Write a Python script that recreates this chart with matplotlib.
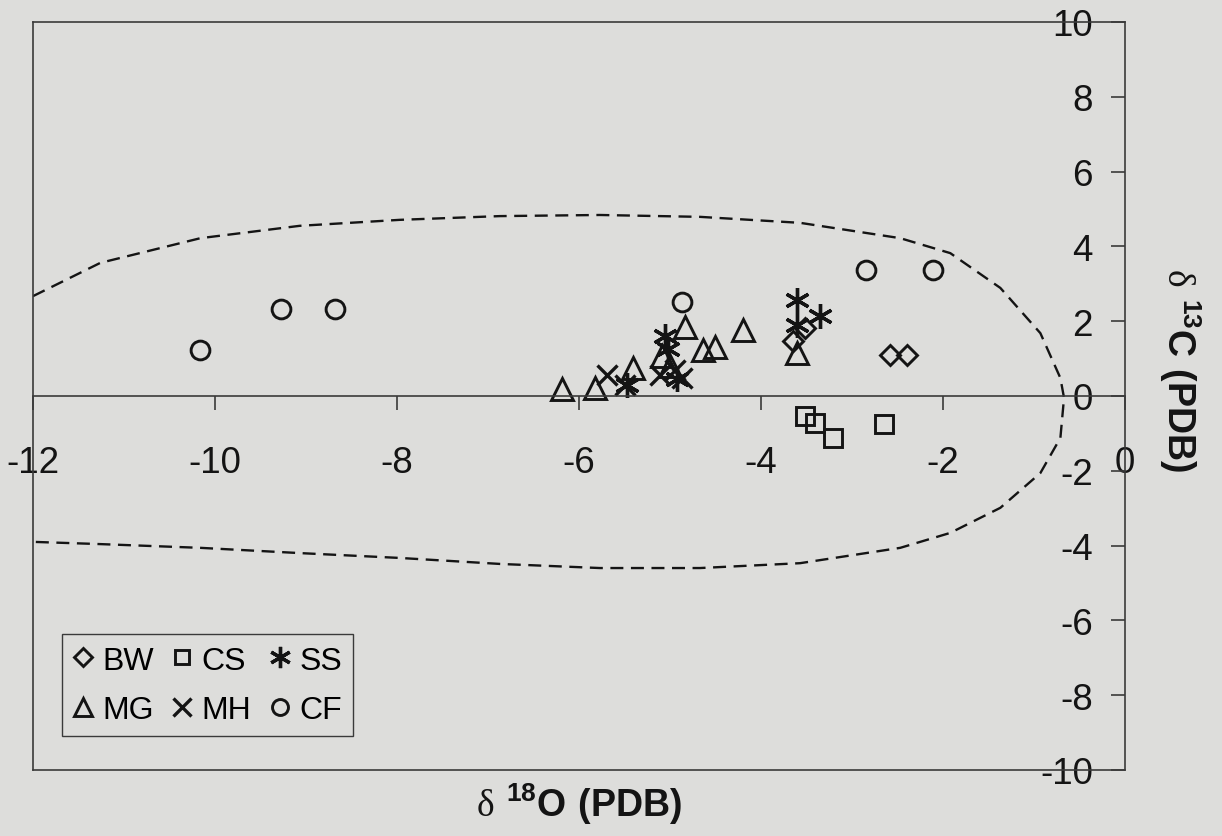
import numpy as np
import matplotlib.pyplot as plt

plt.rcParams['font.family'] = ['Liberation Sans', 'DejaVu Sans']
plt.rcParams['axes.unicode_minus'] = False
plt.rcParams['mathtext.fontset'] = 'custom'
plt.rcParams['mathtext.rm'] = 'Liberation Serif'
plt.rcParams['mathtext.bf'] = 'Liberation Sans:bold'

# delta18O / delta13C (PDB) per sample group
bw_x = [-3.65, -3.52, -2.58, -2.40]
bw_y = [1.47, 1.81, 1.09, 1.09]

cs_x = [-3.52, -3.41, -3.21, -2.65]
cs_y = [-0.53, -0.72, -1.12, -0.75]

ss_x = [-3.60, -3.35, -3.60, -5.05, -5.02, -5.47, -4.92]
ss_y = [2.56, 2.13, 1.89, 1.60, 1.25, 0.29, 0.45]

mg_x = [-6.19, -5.82, -5.41, -5.09, -5.00, -4.84, -4.64, -4.51, -4.20, -3.60]
mg_y = [0.19, 0.21, 0.75, 1.07, 0.80, 1.84, 1.23, 1.31, 1.76, 1.15]

mh_x = [-5.69, -5.49, -5.11, -4.87, -4.95]
mh_y = [0.56, 0.29, 0.56, 0.48, 0.70]

cf_x = [-10.16, -9.27, -8.68, -4.87, -2.85, -2.11]
cf_y = [1.23, 2.32, 2.32, 2.51, 3.36, 3.36]

# dashed envelope
env_x = [-12.0, -11.26, -10.16, -9.07, -7.97, -6.87, -5.77, -4.67, -3.57, -2.47,
         -1.92, -1.37, -0.93, -0.71, -0.67, -0.71, -0.93, -1.37, -1.92, -2.47,
         -3.57, -4.67, -5.77, -6.87, -7.97, -9.07, -10.16, -11.26, -12.0]
env_y = [2.67, 3.56, 4.22, 4.55, 4.71, 4.81, 4.84, 4.79, 4.63, 4.22,
         3.82, 2.89, 1.68, 0.48, -0.05, -1.12, -2.06, -2.99, -3.66, -4.06,
         -4.47, -4.60, -4.60, -4.49, -4.33, -4.20, -4.06, -3.96, -3.90]

x_ticks = np.arange(-12, 1, 2)
y_ticks = np.arange(-10, 11, 2)

paper = '#dddddb'
ink = '#141414'
frame = '#3a3a3a'

fig = plt.figure(figsize=(12.22, 8.37), dpi=100, facecolor=paper)
ax = fig.add_axes([33 / 1222, 66 / 837, 1092 / 1222, 748 / 837])
ax.set_facecolor(paper)
ax.set_xlim(-12, 0)
ax.set_ylim(-10, 10)

ax.plot(env_x, env_y, color=ink, lw=1.7, ls=(0, (5.5, 3.2)))

style = dict(ls='none', mfc='none', mec=ink, mew=2.1)
h_bw, = ax.plot(bw_x, bw_y, marker='D', ms=10.5, **style)
h_cs, = ax.plot(cs_x, cs_y, marker='s', ms=12.5, **style)
h_ss, = ax.plot(ss_x, ss_y, marker=(6, 2, 0), ms=18, ls='none', mec=ink, mew=2.4)
h_mg, = ax.plot(mg_x, mg_y, marker='^', ms=15.5, **style)
h_mh, = ax.plot(mh_x, mh_y, marker='x', ms=14.5, ls='none', mec=ink, mew=2.4)
h_cf, = ax.plot(cf_x, cf_y, marker='o', ms=13.5, **style)

# x axis runs through y = 0, y axis sits at x = 0 on the right
for s in ['left', 'top', 'right', 'bottom']:
    ax.spines[s].set_color(frame)
    ax.spines[s].set_linewidth(1.2)
ax.spines['bottom'].set_position(('data', 0))
ax.axhline(-10, color=frame, lw=1.2, clip_on=False)

ax.set_xticks(x_ticks)
ax.set_yticks(y_ticks)
ax.xaxis.set_ticks_position('bottom')
ax.yaxis.set_ticks_position('right')
ax.tick_params(axis='x', direction='out', length=10, width=1.2, color=frame,
               pad=25, labelsize=26.5, labelcolor=ink)
ax.tick_params(axis='y', direction='in', length=10, width=1.2, color=frame,
               right=True, left=False, labelright=True, labelleft=False,
               pad=-23, labelsize=26.5, labelcolor=ink)
for t in ax.get_yticklabels():
    t.set_horizontalalignment('right')

ax.text(0.5, -0.045, r'$\mathrm{\delta}\ {}^{\mathbf{18}}\mathbf{O\ (PDB)}$',
        transform=ax.transAxes, ha='center', va='center', fontsize=27, color=ink)
ax.text(1.05, 0.536, r'$\mathrm{\delta}\ {}^{\mathbf{13}}\mathbf{C\ (PDB)}$',
        transform=ax.transAxes, ha='center', va='center', rotation=270,
        fontsize=27, color=ink)

handles = [h_bw, h_mg, h_cs, h_mh, h_ss, h_cf]
labels = ['BW', 'MG', 'CS', 'MH', 'SS', 'CF']
leg = ax.legend(handles, labels, ncol=3, loc='lower left',
                bbox_to_anchor=(0.0266, 0.0455), borderaxespad=0,
                fontsize=23, fancybox=False, edgecolor=frame, facecolor=paper,
                framealpha=1, handlelength=0.6, handletextpad=0.3,
                columnspacing=0.6, borderpad=0.35, labelspacing=0.6,
                markerscale=0.85)
leg.get_frame().set_linewidth(1.0)

fig.savefig('out.png', dpi=100, facecolor=paper)
